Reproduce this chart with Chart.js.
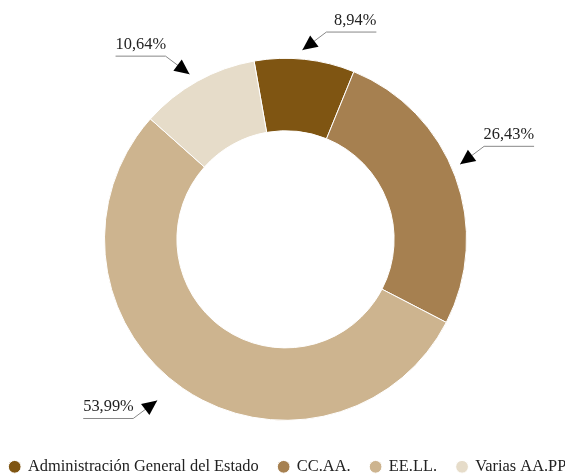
<!DOCTYPE html>
<html>
<head>
<meta charset="utf-8">
<script src="https://cdn.jsdelivr.net/npm/chart.js@4"></script>
<style>
html, body { margin: 0; padding: 0; background: #fff; overflow: hidden; }
#box { width: 571px; height: 476px; }
</style>
</head>
<body>
<div id="box"><canvas id="myChart"></canvas></div>
<script>
const etiquetas = ['Administración General del Estado', 'CC.AA.', 'EE.LL.', 'Varias AA.PP'];
const valores = [8.94, 26.43, 53.99, 10.64];
const colores = ['#7f5512', '#a68050', '#cdb48f', '#e6dcc9'];

const fuente = '"Liberation Serif", "Times New Roman", serif';

// etiquetas con flecha hacia cada sector
const flechas = {
    id: 'flechas',
    afterDatasetsDraw(chart, args, opts) {
        const ctx = chart.ctx;
        const meta = chart.getDatasetMeta(0);
        ctx.save();
        ctx.font = '16.4px ' + fuente;
        meta.data.forEach((arc, i) => {
            const p = arc.getProps(['x', 'y', 'startAngle', 'endAngle', 'outerRadius'], true);
            const a = (p.startAngle + p.endAngle) / 2 + opts.giro[i] * Math.PI / 180;
            const r = p.outerRadius + opts.gap[i];
            const tx = p.x + Math.cos(a) * r;
            const ty = p.y + Math.sin(a) * r;
            const sx = Math.cos(a) >= 0 ? 1 : -1;
            const sy = Math.sin(a) >= 0 ? 1 : -1;
            const ex = tx + sx * 24, ey = ty + sy * 18;
            const hx = ex + sx * 50;

            ctx.strokeStyle = '#888';
            ctx.lineWidth = 1;
            ctx.beginPath();
            ctx.moveTo(hx, ey);
            ctx.lineTo(ex, ey);
            ctx.lineTo(tx, ty);
            ctx.stroke();

            // punta
            const ang = Math.atan2(ty - ey, tx - ex);
            const len = 15, w = 7;
            ctx.fillStyle = '#000';
            ctx.beginPath();
            ctx.moveTo(tx, ty);
            ctx.lineTo(tx - Math.cos(ang) * len - Math.sin(ang) * w, ty - Math.sin(ang) * len + Math.cos(ang) * w);
            ctx.lineTo(tx - Math.cos(ang) * len + Math.sin(ang) * w, ty - Math.sin(ang) * len - Math.cos(ang) * w);
            ctx.closePath();
            ctx.fill();

            ctx.fillStyle = '#222';
            ctx.textAlign = sx > 0 ? 'right' : 'left';
            ctx.textBaseline = 'alphabetic';
            ctx.fillText(valores[i].toFixed(2).replace('.', ',') + '%', hx, ey - 7);
        });
        ctx.restore();
    }
};

const ctx = document.getElementById('myChart').getContext('2d');

new Chart(ctx, {
    type: 'doughnut',
    data: {
        labels: etiquetas,
        datasets: [{
            data: valores,
            backgroundColor: colores,
            borderColor: '#fff',
            borderWidth: 1
        }]
    },
    options: {
        responsive: true,
        maintainAspectRatio: false,
        animation: false,
        rotation: -10,
        cutout: '60%',
        radius: 181,
        layout: {
            padding: { top: 40, bottom: -9, left: -31, right: -36 }
        },
        plugins: {
            tooltip: { enabled: false },
            flechas: { gap: [9, 9, 25, 10], giro: [-1, -3, 4, -1] },
            legend: {
                position: 'bottom',
                labels: {
                    usePointStyle: true,
                    pointStyle: 'circle',
                    boxWidth: 10,
                    boxHeight: 9,
                    padding: 20,
                    color: '#222',
                    font: { family: fuente, size: 16.4 }
                }
            }
        }
    },
    plugins: [flechas]
});
</script>
</body>
</html>
